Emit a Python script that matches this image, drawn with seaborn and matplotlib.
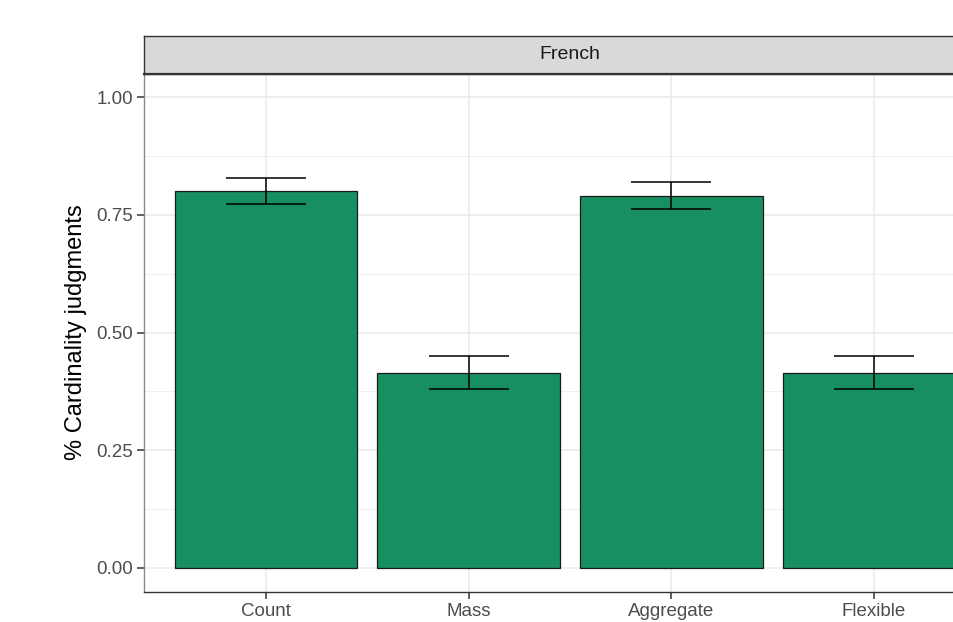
import matplotlib
matplotlib.use("Agg")
import matplotlib.pyplot as plt
import seaborn as sns
import pandas as pd
import numpy as np

# Proportion of cardinality judgments per noun type (French)
categories = ["Count", "Mass", "Aggregate", "Flexible"]
means = [0.800, 0.414, 0.790, 0.414]
lower = [0.773, 0.380, 0.762, 0.380]
upper = [0.828, 0.450, 0.820, 0.450]
panel_title = "French"
y_ticks = [0.00, 0.25, 0.50, 0.75, 1.00]
y_minor = [0.125, 0.375, 0.625, 0.875]

df = pd.DataFrame({"type": categories, "prop": means, "lo": lower, "hi": upper})

sns.set_theme(style="white")
plt.rcParams["font.family"] = ["Liberation Sans", "DejaVu Sans"]

W, H = 954, 622
fig = plt.figure(figsize=(W / 100, H / 100), dpi=100)

# panel spans past the right edge of the canvas
ax_left, ax_right = 144.4, 995.6
ax_top, ax_bot = 73.5, 591.5
ax = fig.add_axes([ax_left / W, (H - ax_bot) / H, (ax_right - ax_left) / W, (ax_bot - ax_top) / H])

grid_col = "#EBEBEB"
for v in y_minor:
    ax.axhline(v, color=grid_col, lw=0.6, zorder=0)
for v in y_ticks:
    ax.axhline(v, color=grid_col, lw=1.2, zorder=0)
for i in range(len(categories)):
    ax.axvline(i, color=grid_col, lw=1.2, zorder=0)

sns.barplot(data=df, x="type", y="prop", order=categories, color="#178F60",
            saturation=1, width=0.9, edgecolor="#1A1A1A", linewidth=0.9,
            errorbar=None, ax=ax, zorder=2)

xpos = np.arange(len(categories))
ax.errorbar(xpos, df["prop"], yerr=[df["prop"] - df["lo"], df["hi"] - df["prop"]],
            fmt="none", ecolor="black", elinewidth=1.1, capsize=29, capthick=1.1, zorder=3)

ax.set_xlim(-0.6, len(categories) - 0.4)
ax.set_ylim(-0.05, 1.05)
ax.set_yticks(y_ticks)
ax.set_yticklabels([f"{v:.2f}" for v in y_ticks])
ax.set_xlabel("")
ax.set_ylabel("% Cardinality judgments", fontsize=17, color="black", labelpad=7)
ax.tick_params(axis="both", which="major", length=5, width=1.1, color="#333333",
               labelsize=13.5, labelcolor="#4D4D4D", pad=3, left=True, bottom=True)
for s in ax.spines.values():
    s.set_color("#333333")
    s.set_linewidth(1.0)
ax.spines["left"].set_color("#8A8A8A")

# facet strip
strip_top = 36
sax = fig.add_axes([ax_left / W, (H - ax_top) / H, (ax_right - ax_left) / W, (ax_top - strip_top) / H])
sax.set_facecolor("#D9D9D9")
sax.set_xticks([])
sax.set_yticks([])
for s in sax.spines.values():
    s.set_color("#333333")
    s.set_linewidth(1.0)
sax.spines["bottom"].set_linewidth(1.6)
sax.text(0.5, 0.5, panel_title, ha="center", va="center", fontsize=14, color="#1A1A1A",
         transform=sax.transAxes)

fig.savefig("out.png", dpi=100)
